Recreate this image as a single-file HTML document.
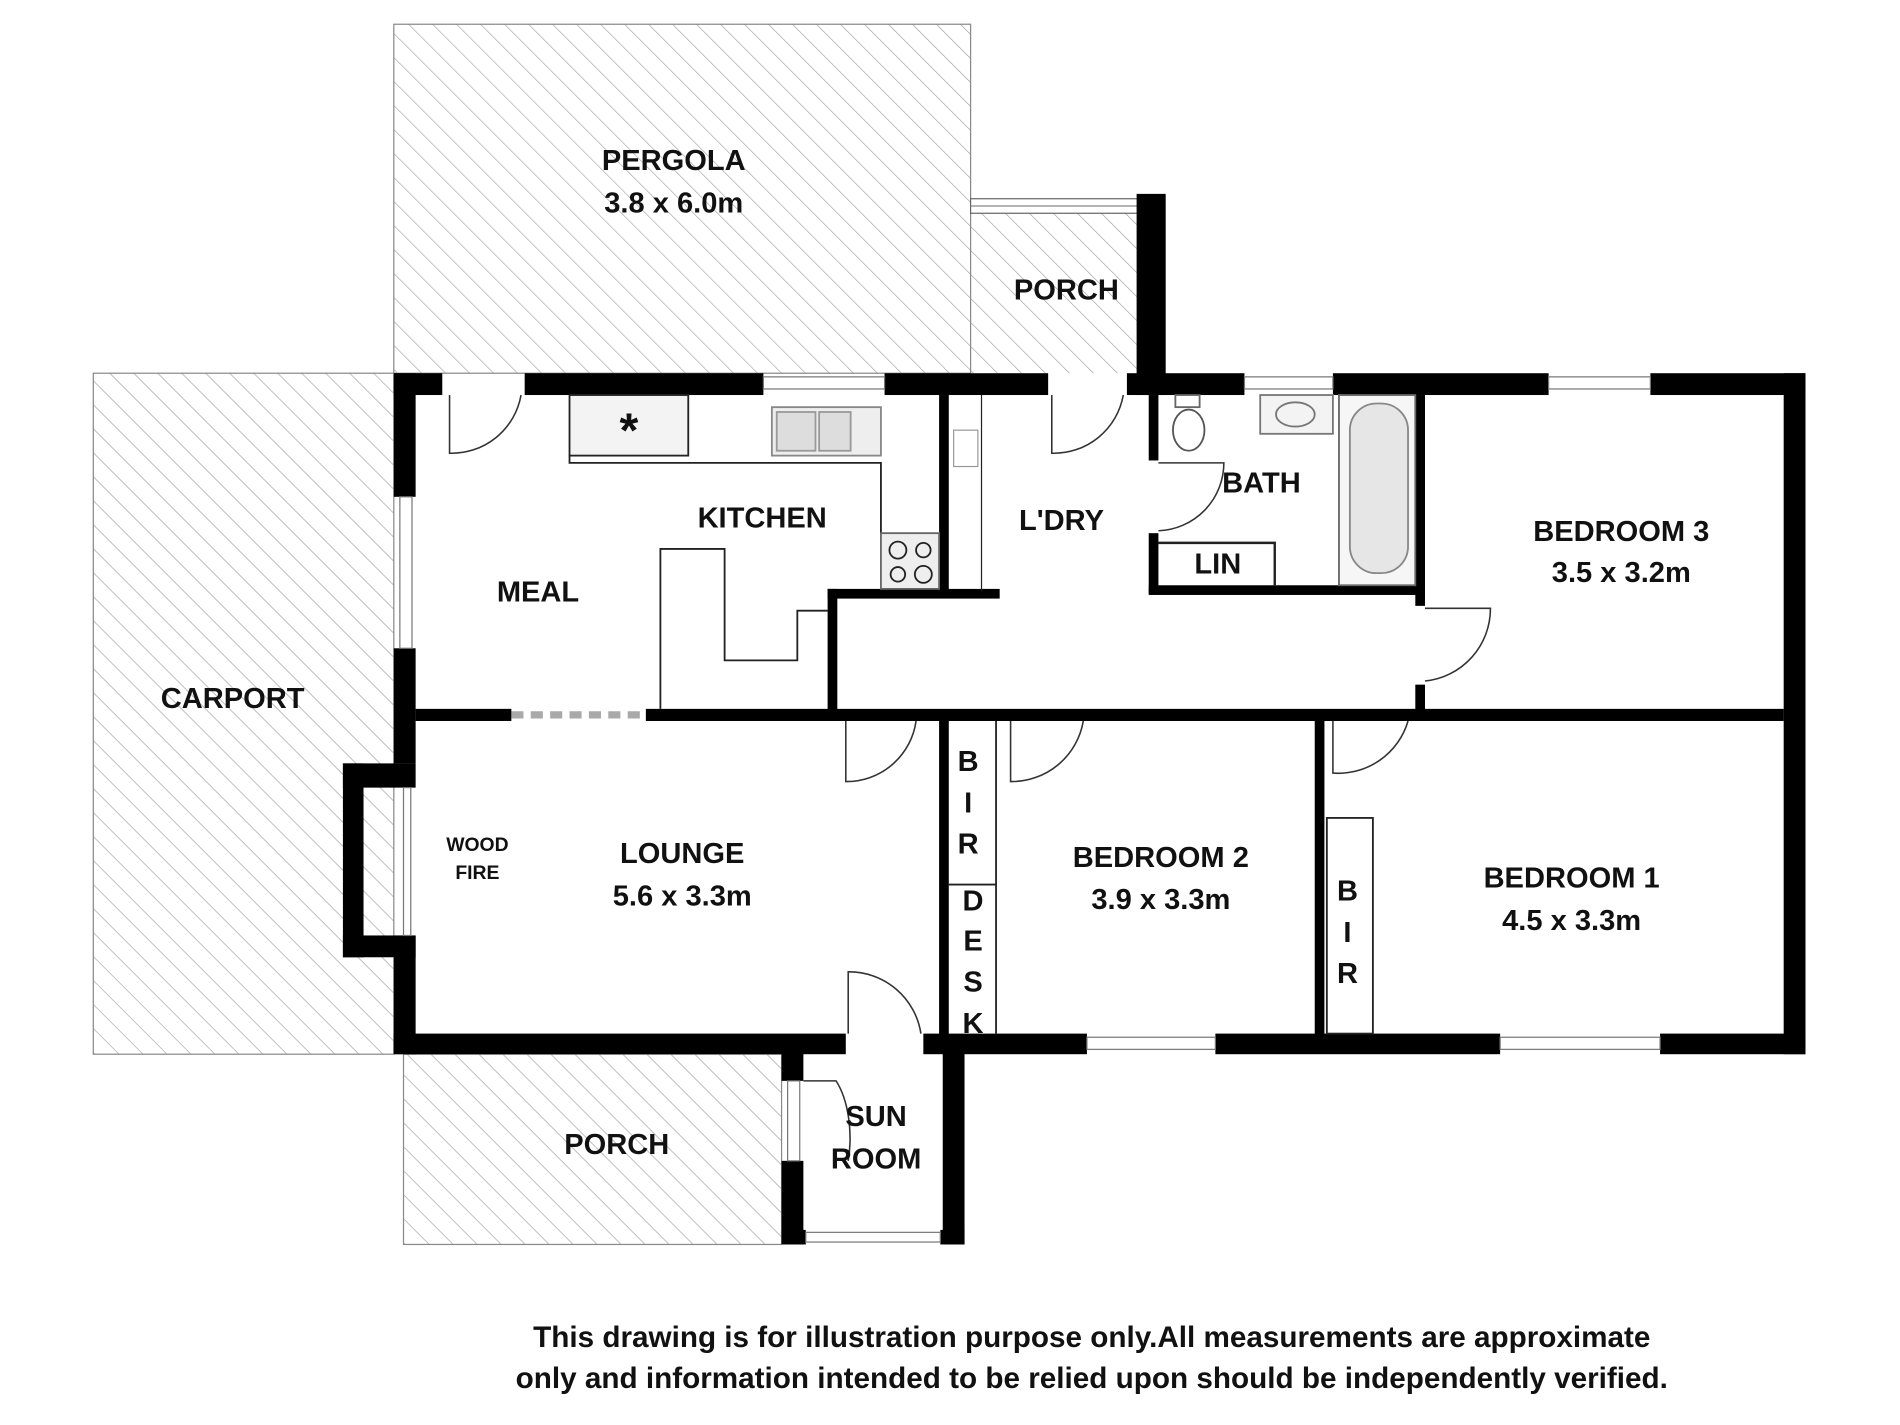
<!DOCTYPE html>
<html><head><meta charset="utf-8"><style>
html,body{margin:0;padding:0;background:#fff;}
svg{display:block}
text{font-family:"Liberation Sans",Arial,sans-serif;font-weight:bold;fill:#111;text-anchor:middle;dominant-baseline:middle}
</style></head><body>
<svg width="1900" height="1425" viewBox="0 0 1568 1176" xmlns="http://www.w3.org/2000/svg">
<defs>
<pattern id="h" width="14" height="14" patternUnits="userSpaceOnUse" patternTransform="rotate(-45)">
<line x1="0" y1="0" x2="0" y2="14" stroke="#9a9a9a" stroke-width="1"/>
</pattern>
</defs>
<rect width="1568" height="1176" fill="#fff"/>
<rect x="325" y="20" width="476" height="288" fill="url(#h)" stroke="#888" stroke-width="1"/>
<rect x="801" y="175" width="144" height="133" fill="url(#h)"/>
<rect x="77" y="308" width="248" height="562" fill="url(#h)" stroke="#888" stroke-width="1"/>
<rect x="333" y="870" width="312" height="157" fill="url(#h)" stroke="#888" stroke-width="1"/>
<rect x="343" y="326" width="1129" height="527" fill="#fff"/>
<rect x="801" y="164" width="140" height="12" fill="#fff" stroke="#666" stroke-width="1"/>
<line x1="801" y1="170" x2="941" y2="170" stroke="#888"/>
<rect x="938" y="160" width="24" height="166" fill="#000"/>
<g fill="#000">
<rect x="325" y="308" width="40" height="18"/>
<rect x="433" y="308" width="197" height="18"/>
<rect x="730" y="308" width="135" height="18"/>
<rect x="930" y="308" width="97" height="18"/>
<rect x="1100" y="308" width="178" height="18"/>
<rect x="1362" y="308" width="128" height="18"/>
<rect x="325" y="308" width="18" height="102"/>
<rect x="325" y="535" width="18" height="95"/>
<rect x="325" y="772" width="18" height="98"/>
<rect x="283" y="630" width="60" height="20"/>
<rect x="283" y="630" width="17" height="160"/>
<rect x="283" y="772" width="60" height="18"/>
<rect x="1472" y="308" width="18" height="562"/>
<rect x="325" y="853" width="373" height="17"/>
<rect x="762" y="853" width="135" height="17"/>
<rect x="1003" y="853" width="235" height="17"/>
<rect x="1370" y="853" width="120" height="17"/>
<rect x="645" y="860" width="18" height="32"/>
<rect x="645" y="958" width="18" height="69"/>
<rect x="778" y="860" width="18" height="167"/>
<rect x="645" y="1015" width="20" height="12"/>
<rect x="776" y="1015" width="20" height="12"/>
<rect x="343" y="585" width="79" height="10"/>
<rect x="533" y="585" width="939" height="10"/>
<rect x="775" y="326" width="8" height="164"/>
<rect x="683" y="486" width="142" height="8"/>
<rect x="683" y="486" width="8" height="100"/>
<rect x="948" y="326" width="8" height="54"/>
<rect x="948" y="440" width="8" height="50"/>
<rect x="948" y="483" width="228" height="8"/>
<rect x="1168" y="326" width="8" height="174"/>
<rect x="1168" y="565" width="8" height="25"/>
<rect x="775" y="595" width="8" height="265"/>
<rect x="1085" y="595" width="8" height="265"/>
</g>
<g fill="#fff" stroke="#777" stroke-width="1">
<rect x="630" y="311" width="100" height="10"/>
<rect x="1027" y="311" width="73" height="10"/>
<rect x="1278" y="311" width="84" height="10"/>
<rect x="897" y="856" width="106" height="10"/>
<rect x="1238" y="856" width="132" height="10"/>
<rect x="665" y="1017" width="111" height="8"/>
<rect x="330" y="410" width="10" height="125"/>
<rect x="333" y="650" width="6" height="122"/>
<rect x="650" y="892" width="10" height="66"/>
</g>
<line x1="422" y1="590" x2="533" y2="590" stroke="#555" stroke-width="6" stroke-dasharray="10,6" opacity="0.5"/>
<g fill="none" stroke="#333" stroke-width="1.3">
<path d="M371 326 V374 A58 58 0 0 0 430 326"/>
<path d="M868 326 V374 A58 58 0 0 0 927 326"/>
<path d="M956 382 H1010 A56 56 0 0 1 956 438"/>
<path d="M1176 502 H1230 A60 60 0 0 1 1176 562"/>
<path d="M698 595 V645 A58 58 0 0 0 756 595"/>
<path d="M834 595 V645 A60 60 0 0 0 894 595"/>
<path d="M1100 595 V638 A60 60 0 0 0 1162 595"/>
<path d="M700 853 V802 A60 60 0 0 1 760 853"/>
<path d="M663 892 H690 A30 60 0 0 1 700 958"/>
</g>
<g fill="none" stroke="#222" stroke-width="1.5">
<rect x="470" y="326" width="98" height="50" fill="#f3f3f3"/>
<path d="M470 376 V382 H727 V440"/>
<rect x="637" y="336" width="90" height="40" fill="#eee" stroke="#888"/>
<rect x="641" y="340" width="32" height="32" fill="#ddd" stroke="#999"/>
<rect x="676" y="340" width="26" height="32" fill="#ddd" stroke="#999"/>
<rect x="727" y="440" width="48" height="46" fill="#eee" stroke="#666"/>
<circle cx="741" cy="454" r="7"/><circle cx="762" cy="454" r="6"/>
<circle cx="741" cy="474" r="6"/><circle cx="762" cy="474" r="7"/>
<path d="M545 585 V453 H598 V545 H658 V504 H683"/>
<line x1="810" y1="326" x2="810" y2="488" stroke-width="1"/>
<rect x="787" y="355" width="20" height="30" stroke="#999" stroke-width="1"/>
<rect x="1105" y="326" width="63" height="157" fill="#f6f6f6" stroke="#666"/>
<rect x="1114" y="333" width="48" height="140" rx="22" fill="#e6e6e6" stroke="#888"/>
<rect x="1040" y="326" width="60" height="32" fill="#f3f3f3" stroke="#777"/>
<ellipse cx="1069" cy="342" rx="16" ry="10" stroke="#777"/>
<rect x="970" y="326" width="20" height="10" stroke="#666"/>
<ellipse cx="981" cy="355" rx="13" ry="17" stroke="#555"/>
<path d="M956 448 H1052 V483" stroke-width="2"/>
<line x1="822" y1="595" x2="822" y2="853" stroke-width="1.5"/>
<line x1="783" y1="730" x2="822" y2="730" stroke-width="1.5"/>
<rect x="1095" y="675" width="38" height="178" stroke-width="1.5"/>
</g>
<text x="519" y="358" font-size="40" font-weight="normal" fill="#444">*</text>
<g font-size="24">
<text x="556" y="134">PERGOLA</text>
<text x="556" y="169">3.8 x 6.0m</text>
<text x="880" y="241">PORCH</text>
<text x="629" y="429">KITCHEN</text>
<text x="444" y="490">MEAL</text>
<text x="876" y="431">L'DRY</text>
<text x="1041" y="400">BATH</text>
<text x="1005" y="467">LIN</text>
<text x="1338" y="440">BEDROOM 3</text>
<text x="1338" y="474">3.5 x 3.2m</text>
<text x="192" y="578">CARPORT</text>
<text x="563" y="706">LOUNGE</text>
<text x="563" y="741">5.6 x 3.3m</text>
<text x="958" y="709">BEDROOM 2</text>
<text x="958" y="744">3.9 x 3.3m</text>
<text x="1297" y="726">BEDROOM 1</text>
<text x="1297" y="761">4.5 x 3.3m</text>
<text x="509" y="946">PORCH</text>
<text x="723" y="923">SUN</text>
<text x="723" y="958">ROOM</text>
<text x="799" y="630">B</text><text x="799" y="664">I</text><text x="799" y="698">R</text>
<text x="803" y="745">D</text><text x="803" y="778">E</text><text x="803" y="812">S</text><text x="803" y="846">K</text>
<text x="1112" y="737">B</text><text x="1112" y="771">I</text><text x="1112" y="805">R</text>
</g>
<text x="394" y="698" font-size="16">WOOD</text>
<text x="394" y="721" font-size="16">FIRE</text>
<text x="901" y="1105" font-size="24.5">This drawing is for illustration purpose only.All measurements are approximate</text>
<text x="901" y="1139" font-size="24.5">only and information intended to be relied upon should be independently verified.</text>
</svg>
</body></html>
